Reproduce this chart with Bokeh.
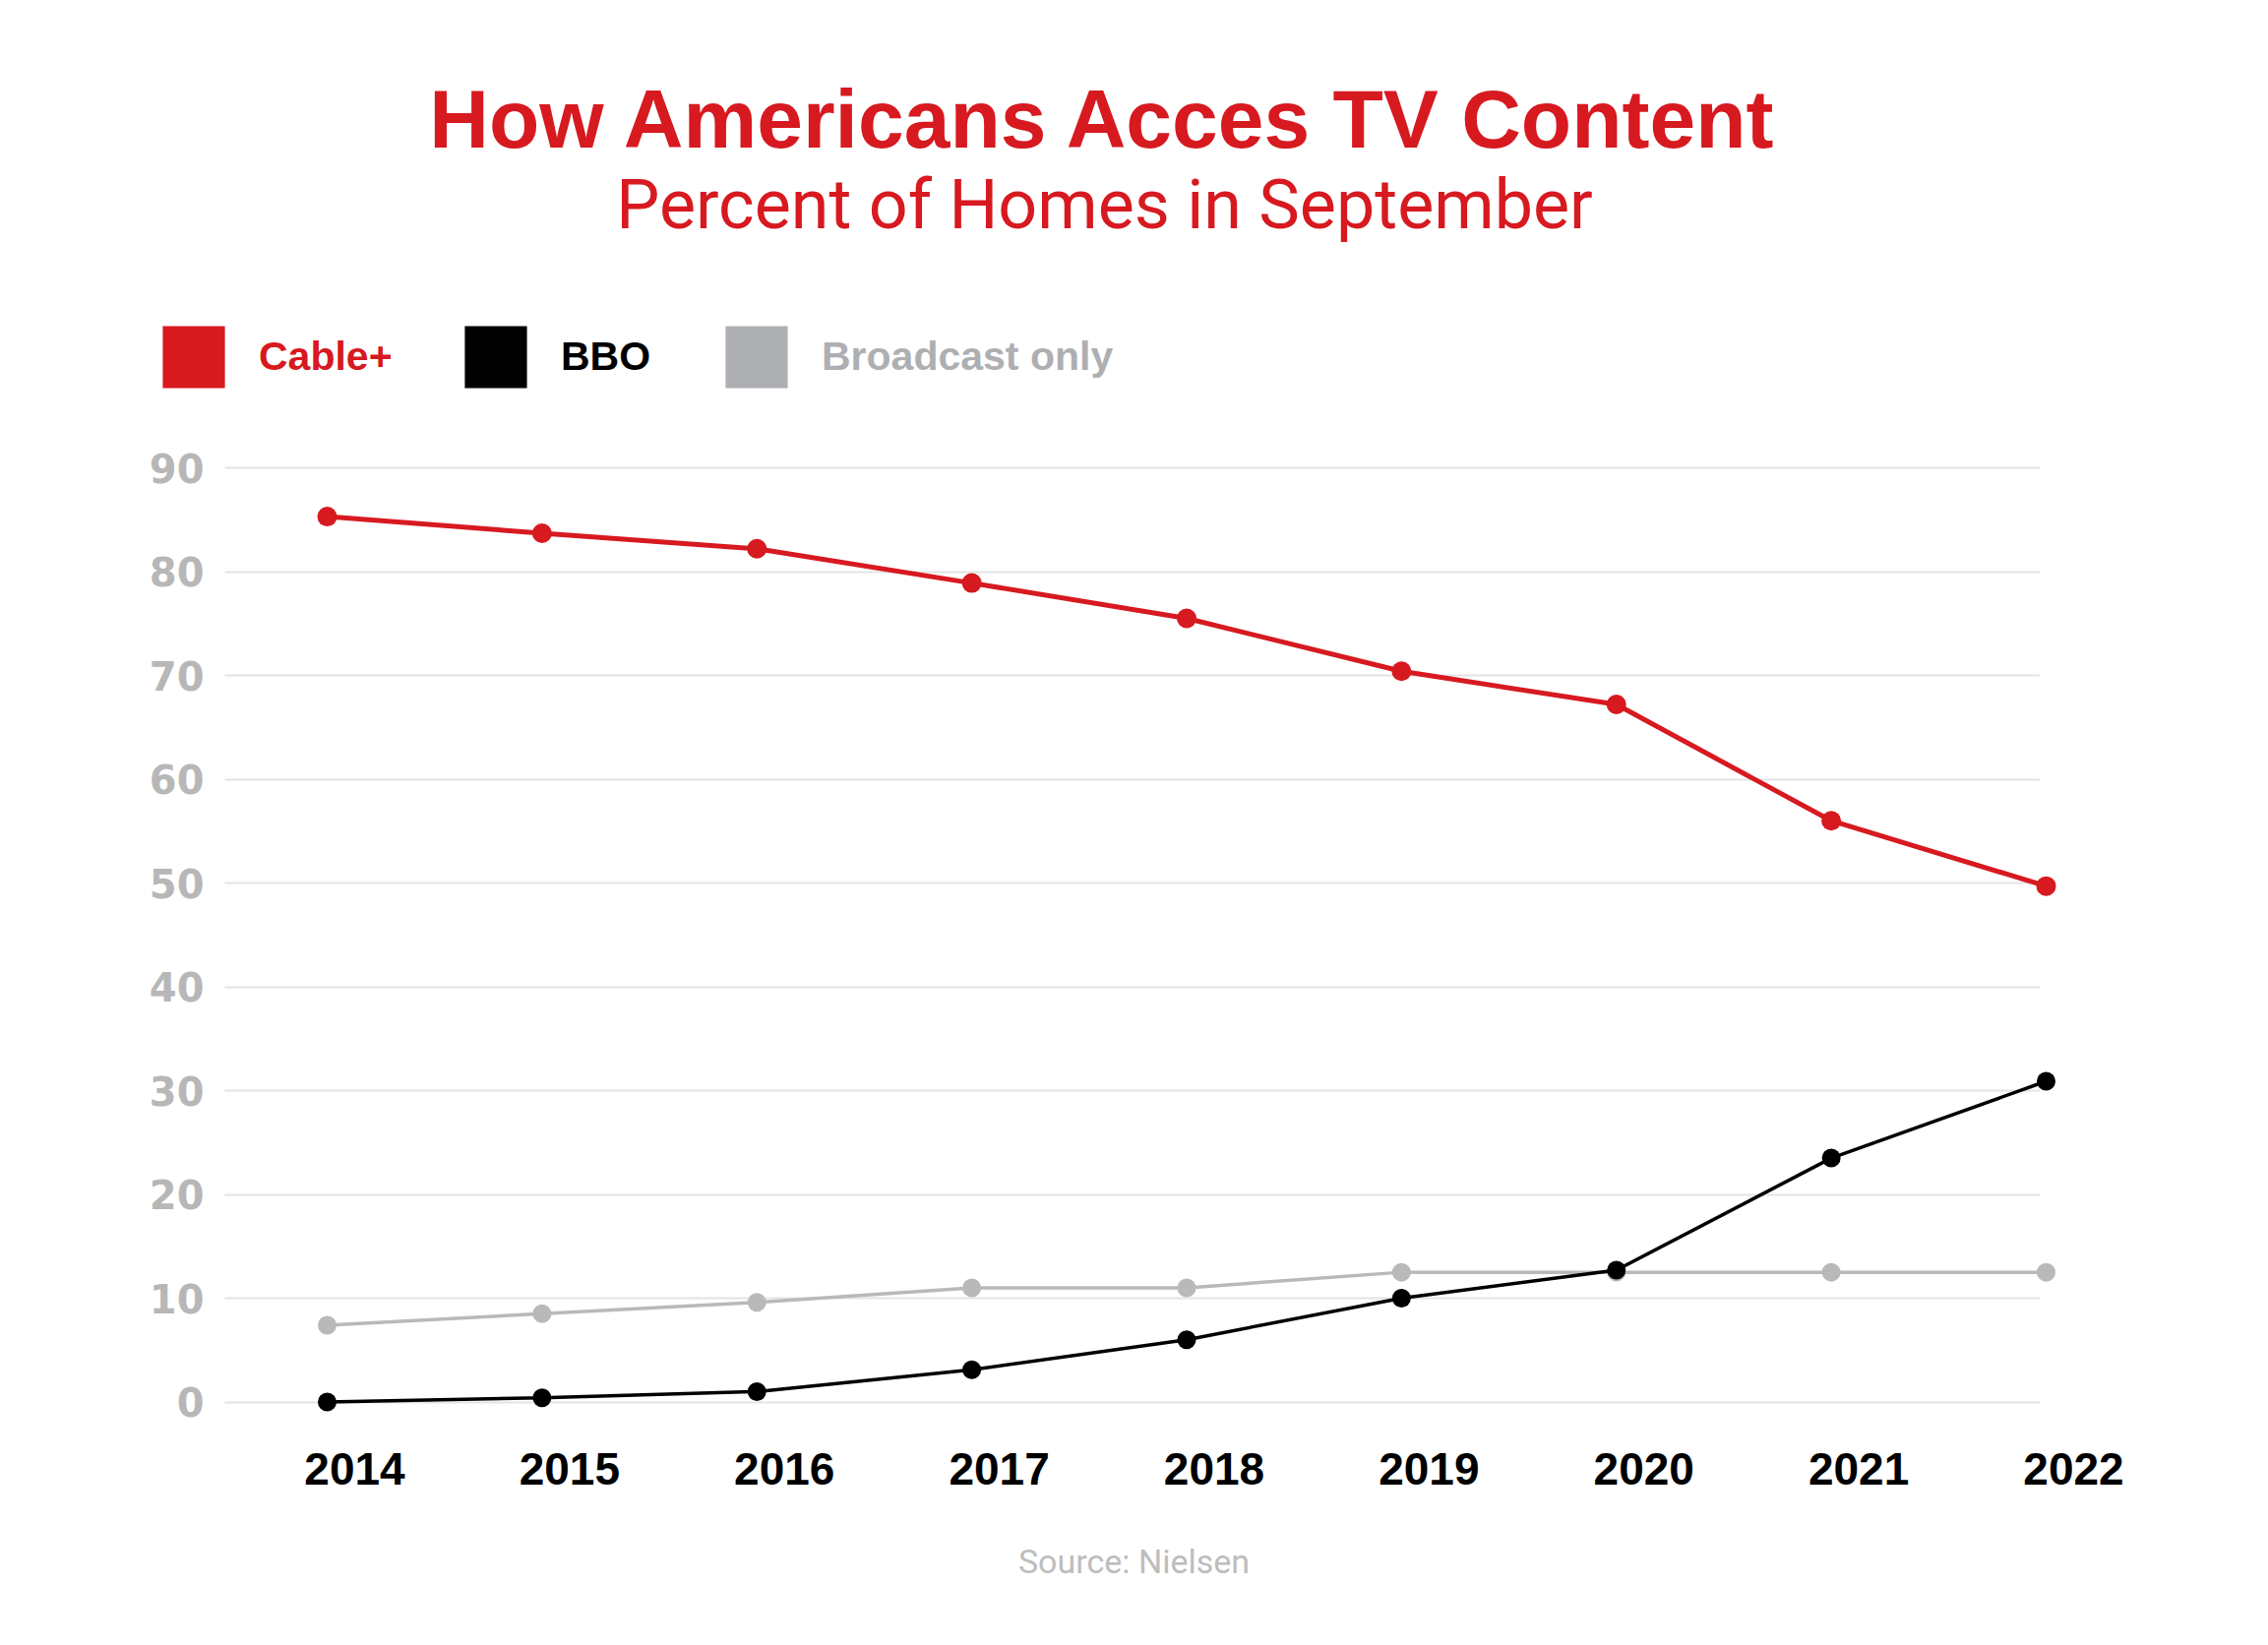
from bokeh.plotting import figure
from bokeh.models import (ColumnDataSource, Range1d, FixedTicker, Legend,
                          LegendItem, Label, LabelSet, Grid)
from bokeh.core.properties import value
from bokeh.embed import file_html
from bokeh.resources import INLINE

# ---------------- data ----------------
years = [2014, 2015, 2016, 2017, 2018, 2019, 2020, 2021, 2022]
year_labels = ["2014", "2015", "2016", "2017", "2018", "2019", "2020", "2021", "2022"]
cable_plus = [85.3, 83.7, 82.2, 78.9, 75.5, 70.4, 67.2, 56.0, 49.7]
bbo = [0.0, 0.4, 1.0, 3.1, 6.0, 10.0, 12.7, 23.5, 30.9]
broadcast_only = [7.4, 8.5, 9.6, 11.0, 11.0, 12.5, 12.5, 12.5, 12.5]
series_names = ["Cable+", "BBO", "Broadcast only"]
y_ticks = [0, 10, 20, 30, 40, 50, 60, 70, 80, 90]
title_text = "How Americans Acces TV Content"
subtitle_text = "Percent of Homes in September"
source_text = "Source: Nielsen"

# ---------------- styles ----------------
RED = "#D71920"
BLACK = "#000000"
GRAY_LINE = "#B9B9B9"
GRAY_LEG = "#AEAFB2"
GRID = "#E4E4E4"

# ---------------- layout (pixels) ----------------
W, H = 2290, 1656
FRAME_L, FRAME_R = 140, 2200
GRID_L, GRID_R = 228, 2073
YLAB_RIGHT = 207                         # right edge of y tick labels
X0_PX, PX_PER_YEAR = 332.0, 218.375     # x of first year
Y0_PX, PX_PER_UNIT = 1424.5, 10.55      # y of value 0


def dx(px):
    return years[0] + (px - X0_PX) / PX_PER_YEAR


def dy(py):
    return (Y0_PX - py) / PX_PER_UNIT


x_range = Range1d(dx(FRAME_L), dx(FRAME_R))
y_range = Range1d(dy(H), dy(0))

p = figure(width=W, height=H, x_range=x_range, y_range=y_range,
           output_backend="svg", toolbar_location=None,
           x_axis_location=None, y_axis_location="left",
           min_border_left=FRAME_L, min_border_right=W - FRAME_R,
           min_border_top=0, min_border_bottom=0,
           outline_line_color=None, background_fill_color="white",
           border_fill_color="white")

# y axis
ax = p.yaxis[0]
ax.ticker = FixedTicker(ticks=y_ticks)
ax.axis_line_color = None
ax.major_tick_line_color = None
ax.minor_tick_line_color = None
ax.major_tick_in = 0
ax.major_tick_out = 0
ax.major_label_standoff = FRAME_L - YLAB_RIGHT
ax.major_label_text_font = "DejaVu Sans"
ax.major_label_text_font_style = "bold"
ax.major_label_text_font_size = "40px"
ax.major_label_text_color = "#B7B7B7"

p.xgrid.visible = False
if "cross_bounds" in Grid.properties():
    p.ygrid.ticker = FixedTicker(ticks=y_ticks)
    p.ygrid.grid_line_color = GRID
    p.ygrid.grid_line_width = 2
    p.ygrid.cross_bounds = (dx(GRID_L), dx(GRID_R))
else:
    p.ygrid.visible = False
    p.segment(x0=dx(GRID_L), x1=dx(GRID_R), y0=y_ticks, y1=y_ticks,
              line_color=GRID, line_width=2)

src = ColumnDataSource(dict(x=years, cable=cable_plus, bbo=bbo, bc=broadcast_only,
                            lab=year_labels))

# series
p.line("x", "bc", source=src, line_color=GRAY_LINE, line_width=3.5)
p.scatter("x", "bc", source=src, size=19, fill_color=GRAY_LINE, line_color=None)
p.line("x", "bbo", source=src, line_color=BLACK, line_width=3.5)
p.scatter("x", "bbo", source=src, size=19, fill_color=BLACK, line_color=None)
p.line("x", "cable", source=src, line_color=RED, line_width=5)
p.scatter("x", "cable", source=src, size=20, fill_color=RED, line_color=None)

# x labels
x_labels = LabelSet(x="x", y=dy(1492), text="lab", source=src, x_offset=28,
                    text_align="center", text_baseline="middle",
                    text_font=value("Liberation Sans"), text_font_style="bold",
                    text_font_size="46px", text_color=BLACK)
p.add_layout(x_labels)

# legends (one per series so each label gets its own colour)
leg_colors = [RED, BLACK, GRAY_LEG]
leg_left = [157, 464, 729]
leg_bottom = 402
nan = float("nan")
for name, col, lx in zip(series_names, leg_colors, leg_left):
    proxy = p.quad(left=[nan], right=[nan], bottom=[nan], top=[nan],
                   fill_color=col, line_color=None)
    leg = Legend(items=[LegendItem(label=name, renderers=[proxy])],
                 location=(lx - FRAME_L, H - leg_bottom),
                 orientation="horizontal", glyph_width=79, glyph_height=79,
                 label_standoff=27, padding=0, margin=0, spacing=0,
                 border_line_color=None, background_fill_alpha=0,
                 label_text_font="Liberation Sans", label_text_font_style="bold",
                 label_text_font_size="41px", label_text_color=col)
    p.add_layout(leg)

# titles & source
p.add_layout(Label(x=dx(1122), y=dy(120), text=title_text, text_align="center",
                   text_baseline="middle", text_font="Liberation Sans",
                   text_font_style="bold", text_font_size="84px", text_color=RED))
p.add_layout(Label(x=dx(1122), y=dy(207), text=subtitle_text, text_align="center",
                   text_baseline="middle", text_font="Roboto",
                   text_font_style="normal", text_font_size="70px", text_color=RED))
p.add_layout(Label(x=dx(1152), y=dy(1586), text=source_text, text_align="center",
                   text_baseline="middle", text_font="Roboto",
                   text_font_style="normal", text_font_size="34px", text_color="#BDBDBD"))

open("out.html", "w").write(file_html(p, INLINE))
